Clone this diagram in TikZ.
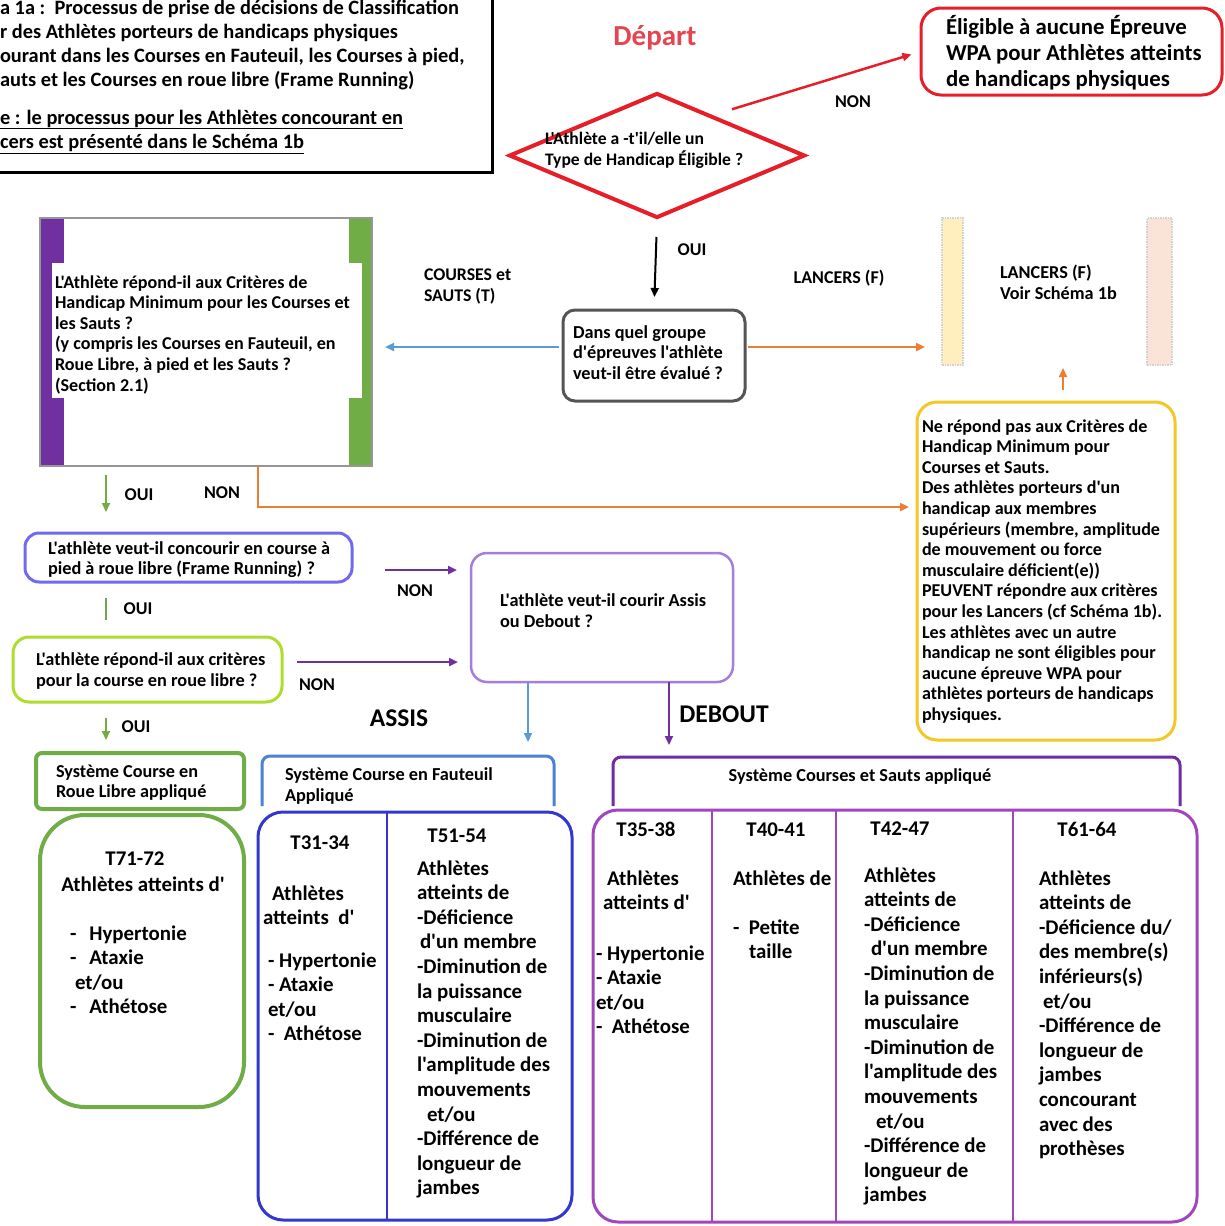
\documentclass[tikz,border=0pt]{standalone}
\usepackage{fontspec}
\setmainfont{Carlito}[Ligatures=TeXOff]
\usetikzlibrary{arrows.meta,shapes.geometric,calc}
\definecolor{cred}{RGB}{230,30,40}
\definecolor{cdep}{RGB}{228,70,80}
\definecolor{cgray}{RGB}{85,85,85}
\definecolor{cblue}{RGB}{91,155,213}
\definecolor{corange}{RGB}{237,125,49}
\definecolor{cpurple}{RGB}{112,48,160}
\definecolor{cgreen}{RGB}{112,173,71}
\definecolor{cfr}{RGB}{115,105,240}
\definecolor{cyg}{RGB}{175,220,45}
\definecolor{clav}{RGB}{165,125,220}
\definecolor{cyel}{RGB}{242,200,40}
\definecolor{cdblue}{RGB}{50,55,205}
\definecolor{chblue}{RGB}{75,130,210}
\definecolor{chpur}{RGB}{110,45,165}
\definecolor{cbpur}{RGB}{160,70,190}
\definecolor{cbarY}{RGB}{255,238,190}
\definecolor{cbarP}{RGB}{250,228,215}
\definecolor{cborder}{RGB}{150,150,150}
\newcommand{\mylines}[1]{\begin{tabular}[t]{@{}l@{}}#1\end{tabular}}
\newcommand{\myfs}[2]{\fontsize{#1}{#2}\selectfont\bfseries}
\begin{document}
\begin{tikzpicture}[x=1pt,y=-1pt,
  box/.style={draw, inner sep=0pt, outer sep=0pt, anchor=north west},
  txt/.style={anchor=base west, inner sep=0pt, outer sep=0pt},
  lbl/.style={inner sep=0pt, outer sep=0pt, font=\myfs{18}{20}},
  arr/.style={-{Triangle[length=9pt,width=8pt]}, line width=2.5pt},
  small/.style={font=\myfs{18.1}{20.6}},
  big/.style={font=\myfs{20.9}{24.6}}]
\useasboundingbox (0,0) rectangle (1225,1226);
\clip (0,0) rectangle (1225,1226);
\fill[white] (0,0) rectangle (1225,1226);

% title box
\node[box, line width=3pt, minimum width=512pt, minimum height=192pt] (title) at (-20,-20) {};
\node[txt, font=\myfs{20.4}{24.3}] (t1) at (0,14) {\mylines{a 1a :\ \ Processus de prise de décisions de Classification\\r des Athlètes porteurs de handicaps physiques\\ourant dans les Courses en Fauteuil, les Courses à pied,\\auts et les Courses en roue libre (Frame Running)}};
\node[txt, font=\myfs{20.4}{24.3}] (t2) at (0,124) {\mylines{\underline{e : le processus pour les Athlètes concourant en}\\\underline{cers est présenté dans le Schéma 1b}}};

% depart
\node[font=\myfs{29}{32}, text=cdep, inner sep=0pt] (depart) at (655,38) {Départ};
\node[diamond, draw=cred, line width=4pt, minimum width=296pt, minimum height=125pt, inner sep=0pt] (q1) at (657,155.5) {};
\node[txt, font=\myfs{17.6}{21}] (q1t) at (545,144) {\mylines{L'Athlète a -t'il/elle un\\Type de Handicap Éligible ?}};

% eligible box
\node[box, draw=cred, line width=3pt, rounded corners=20pt, minimum width=301pt, minimum height=87pt] (elig) at (921,8) {};
\node[txt, font=\myfs{22.8}{26}] (eligt) at (946,34) {\mylines{Éligible à aucune Épreuve\\WPA pour Athlètes atteints\\de handicaps physiques}};
\draw[arr, cred, line width=2.5pt, shorten >=10pt] ([yshift=14pt]q1.north east) -- (elig.west);
\node[lbl] (non1) at (853,102) {NON};

% dans quel groupe
\node[box, draw=cgray, line width=3pt, rounded corners=12pt, minimum width=182pt, minimum height=91pt] (dans) at (563,310) {};
\node[txt, font=\myfs{18.3}{20.5}] (danst) at (573,338) {\mylines{Dans quel groupe\\d'épreuves l'athlète\\veut-il être évalué ?}};
\draw[arr, black, line width=2pt, shorten <=17pt, shorten >=13pt] (q1.south) -- (dans.north);
\node[lbl] (oui1) at (692,250) {OUI};

% criteria box
\node[box, draw=none, fill=cpurple, minimum width=24pt, minimum height=248pt] (barP) at (40,218) {};
\node[box, draw=none, fill=cgreen, minimum width=23pt, minimum height=248pt] (barG) at (349,218) {};
\node[box, draw=none, fill=white, minimum width=310pt, minimum height=135pt] (inset) at (52,263) {};
\node[box, draw=cborder, line width=2pt, minimum width=332pt, minimum height=248pt] (crit) at (40,218) {};
\node[txt, small] (critt) at (55,288) {\mylines{L'Athlète répond-il aux Critères de\\Handicap Minimum pour les Courses et\\les Sauts ?\\(y compris les Courses en Fauteuil, en\\Roue Libre, à pied et les Sauts ?\\(Section 2.1)}};
\draw[arr, cblue, shorten <=4pt, shorten >=13pt] ([yshift=8.5pt]dans.west) -- ([yshift=8.5pt]dans.west -| crit.east);
\node[txt, font=\myfs{17.8}{21}] (courses) at (424,280) {\mylines{COURSES et\\SAUTS (T)}};

% lancers
\node[box, draw=gray!35, densely dotted, line width=1.5pt, fill=cbarY, minimum width=21pt, minimum height=147pt] (lbarL) at (942,218) {};
\node[box, draw=gray!35, densely dotted, line width=1.5pt, fill=cbarP, minimum width=25pt, minimum height=147pt] (lbarR) at (1147,218) {};
\node[box, draw=none, minimum width=230pt, minimum height=147pt] (lanc) at (942,218) {};
\node[txt, font=\myfs{18.2}{21}] (lanct) at (1000,278) {\mylines{LANCERS (F)\\Voir Schéma 1b}};
\draw[arr, corange, shorten <=3pt, shorten >=17pt] ([yshift=8.5pt]dans.east) -- ([yshift=8.5pt]dans.east -| lanc.west);
\node[lbl] (lancl) at (839,278) {LANCERS (F)};

% yellow box
\node[box, draw=cyel, line width=3pt, rounded corners=20pt, minimum width=258pt, minimum height=338pt] (ybox) at (917,402) {};
\node[txt, small] (yboxt) at (922,432) {\mylines{Ne répond pas aux Critères de\\Handicap Minimum pour\\Courses et Sauts.\\Des athlètes porteurs d'un\\handicap aux membres\\supérieurs (membre, amplitude\\de mouvement ou force\\musculaire déficient(e))\\PEUVENT répondre aux critères\\pour les Lancers (cf Schéma 1b).\\Les athlètes avec un autre\\handicap ne sont éligibles pour\\aucune épreuve WPA pour\\athlètes porteurs de handicaps\\physiques.}};
\draw[arr, corange, line width=2pt, shorten >=3pt] ([xshift=17pt,yshift=12pt]ybox.north) -- ([xshift=17pt]ybox.north |- lanc.south);

% frame running question
\node[box, draw=cfr, line width=3pt, rounded corners=14pt, minimum width=327pt, minimum height=49pt] (frb) at (25,533) {};
\node[txt, font=\myfs{18.3}{20}] (frbt) at (48,554) {\mylines{L'athlète veut-il concourir en course à\\pied à roue libre (Frame Running) ?}};
\draw[arr, cgreen, line width=2pt, shorten <=9pt, shorten >=21pt] ([xshift=-100pt]crit.south) -- ([xshift=-100pt]crit.south |- frb.north);
\node[lbl] (oui2) at (139,495) {OUI};
\draw[corange, line width=2.5pt, -{Triangle[length=9pt,width=8pt]}, shorten >=8pt] ([xshift=52pt]crit.south) |- ([yshift=64pt]ybox.west);
\node[lbl] (non2) at (222,493) {NON};

% roue libre criteria
\node[box, draw=cyg, line width=3pt, rounded corners=16pt, minimum width=269pt, minimum height=65pt] (rlb) at (13,637) {};
\node[txt, font=\myfs{18.3}{21}] (rlbt) at (36,665) {\mylines{L'athlète répond-il aux critères\\pour la course en roue libre ?}};
\draw[cgreen!80!gray, line width=2pt, shorten <=16pt, shorten >=17pt] ([xshift=-82.5pt]frb.south) -- ([xshift=-82.5pt]frb.south |- rlb.north);
\node[lbl] (oui3) at (138,609) {OUI};

% assis / debout
\node[box, draw=clav, line width=2.5pt, rounded corners=16pt, minimum width=262pt, minimum height=129pt] (assis) at (471,553) {};
\node[txt, font=\myfs{18.3}{21}] (assist) at (500,606) {\mylines{L'athlète veut-il courir Assis\\ou Debout ?}};
\draw[arr, cpurple, shorten <=33pt, shorten >=14pt] ([yshift=-12.5pt]frb.east) -- ([yshift=-12.5pt]frb.east -| assis.west);
\node[lbl] (non3) at (415,591) {NON};
\draw[arr, cpurple, shorten <=15pt, shorten >=13pt] ([yshift=7.5pt]rlb.east) -- ([yshift=7.5pt]rlb.east -| assis.west);
\node[lbl] (non4) at (317,685) {NON};

% headers
\node[box, draw=cgreen, line width=4pt, rounded corners=6pt, minimum width=208pt, minimum height=56pt] (rlh) at (36,753) {};
\node[txt, font=\myfs{18.2}{20.5}] (rlht) at (56,777) {\mylines{Système Course en\\Roue Libre appliqué}};
\draw[arr, cgreen, line width=2pt, shorten <=16pt, shorten >=13pt] ([xshift=-41.5pt]rlb.south) -- ([xshift=-41.5pt]rlb.south |- rlh.north);
\node[lbl] (oui4) at (136,727) {OUI};

\node[box, draw=none, minimum width=292pt, minimum height=50pt] (fht) at (262,756) {};
\draw[chblue, line width=3pt, rounded corners=8pt] (fht.south west) -- (fht.north west) -- (fht.north east) -- (fht.south east);
\node[txt, font=\myfs{18.3}{21}] (fhtt) at (285,780) {\mylines{Système Course en Fauteuil\\Appliqué}};

\node[box, draw=none, minimum width=567pt, minimum height=49pt] (csh) at (613,757) {};
\draw[chpur, line width=3pt, rounded corners=8pt] (csh.south west) -- (csh.north west) -- (csh.north east) -- (csh.south east);
\node[font=\myfs{18.3}{20}, inner sep=0pt] (csht) at (860,777) {Système Courses et Sauts appliqué};

\draw[arr, cblue, line width=2pt, shorten >=14pt] ([xshift=-74pt]assis.south) -- ([xshift=-74pt]assis.south |- fht.north);
\draw[arr, cpurple, line width=2pt, shorten >=12pt] ([xshift=67pt]assis.south) -- ([xshift=67pt]assis.south |- csh.north);
\node[font=\myfs{25.5}{28}, inner sep=0pt] (assisl) at (399,718) {ASSIS};
\node[font=\myfs{25.5}{28}, inner sep=0pt] (deboutl) at (724,714) {DEBOUT};

% T71-72 box
\node[box, draw=cgreen, line width=4pt, rounded corners=45pt, minimum width=204pt, minimum height=292pt] (t71) at (40,815) {};
\node[big, anchor=base, inner sep=0pt] (t71h) at (135,865) {T71-72};
\node[big, anchor=base, inner sep=0pt] (t71a) at (143,891) {Athlètes atteints d'};
\node[txt, big] (t71l) at (70,940) {\mylines{-\hspace{13pt}Hypertonie\\-\hspace{13pt}Ataxie\\\hspace{5pt}et/ou\\-\hspace{13pt}Athétose}};

% wheelchair box
\node[box, draw=cdblue, line width=3pt, rounded corners=25pt, minimum width=314pt, minimum height=408pt] (fbig) at (258,812) {};
\draw[cdblue, line width=2.5pt] ([xshift=129pt]fbig.north west) -- ([xshift=129pt]fbig.south west);
\node[big, anchor=base, inner sep=0pt] (t31h) at (320,849) {T31-34};
\node[txt, big] (t31a) at (263,900) {\mylines{\hspace{9pt}Athlètes\\atteints\ \ d'}};
\node[txt, big] (t31l) at (268,967) {\mylines{- Hypertonie\\- Ataxie\\et/ou\\-\ \ Athétose}};
\node[big, anchor=base, inner sep=0pt] (t51h) at (457,842) {T51-54};
\node[txt, big] (t51l) at (417,875) {\mylines{Athlètes\\atteints de\\-Déficience\\\hspace{3pt}d'un membre\\-Diminution de\\la puissance\\musculaire\\-Diminution de\\l'amplitude des\\mouvements\\\hspace{10pt}et/ou\\-Différence de\\longueur de\\jambes}};

% standing box
\node[box, draw=cbpur, line width=3pt, rounded corners=25pt, minimum width=604pt, minimum height=412pt] (cbig) at (593,810) {};
\draw[cbpur, line width=2.5pt] ([xshift=119pt]cbig.north west) -- ([xshift=119pt]cbig.south west);
\draw[cbpur, line width=2.5pt] ([xshift=243pt]cbig.north west) -- ([xshift=243pt]cbig.south west);
\draw[cbpur, line width=2.5pt] ([xshift=420pt]cbig.north west) -- ([xshift=420pt]cbig.south west);
\node[big, anchor=base, inner sep=0pt] (t35h) at (646,836) {T35-38};
\node[txt, big] (t35a) at (603,885) {\mylines{\hspace{4pt}Athlètes\\atteints d'}};
\node[txt, big] (t35l) at (596,960) {\mylines{- Hypertonie\\- Ataxie\\et/ou\\-\ \ Athétose}};
\node[big, anchor=base, inner sep=0pt] (t40h) at (776,836) {T40-41};
\node[txt, big] (t40a) at (733,885) {Athlètes de};
\node[txt, big] (t40l) at (733,934) {\mylines{-\ \ Petite\\\hspace{16pt}taille}};
\node[big, anchor=base, inner sep=0pt] (t42h) at (900,835) {T42-47};
\node[txt, big] (t42l) at (864,882) {\mylines{Athlètes\\atteints de\\-Déficience\\\hspace{7pt}d'un membre\\-Diminution de\\la puissance\\musculaire\\-Diminution de\\l'amplitude des\\mouvements\\\hspace{12pt}et/ou\\-Différence de\\longueur de\\jambes}};
\node[big, anchor=base, inner sep=0pt] (t61h) at (1087,836) {T61-64};
\node[txt, big] (t61l) at (1039,885) {\mylines{Athlètes\\atteints de\\-Déficience du/\\des membre(s)\\inférieurs(s)\\\hspace{4pt}et/ou\\-Différence de\\longueur de\\jambes\\concourant\\avec des\\prothèses}};
\end{tikzpicture}
\end{document}
